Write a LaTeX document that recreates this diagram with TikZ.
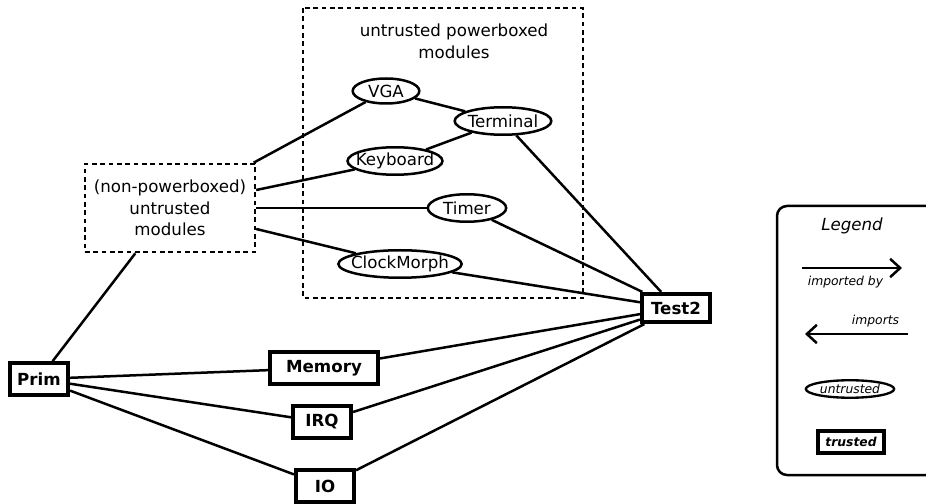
\documentclass[tikz,border=0pt]{standalone}
\usepackage{fontspec}
\setmainfont{DejaVu Sans}
\usetikzlibrary{shapes.geometric, arrows.meta}

\begin{document}
\begin{tikzpicture}[x=0.6pt, y=-0.6pt,
    every node/.style={font=\fontsize{10}{13}\selectfont},
    trustbox/.style={draw, rectangle, line width=2.3pt, minimum width=35pt, minimum height=19pt, inner sep=3pt, font=\fontsize{10}{13}\selectfont\bfseries},
    untrustell/.style={draw, ellipse, line width=1.5pt, minimum width=40pt, minimum height=16.5pt, inner xsep=-12pt, inner ysep=0pt},
    groupbox/.style={draw, line width=1.4pt, dash pattern=on 2.8pt off 2.2pt},
    link/.style={line width=1.5pt},
    legarrow/.style={line width=1.5pt, -{Straight Barb[length=6pt, width=11pt, line width=1.5pt]}},
    legtext/.style={font=\fontsize{7.4}{9}\selectfont\itshape}
]
    \useasboundingbox (0,0) rectangle (926,504);

    % Powerboxed modules
    \draw [groupbox] (303,8) rectangle (583,298);
    \node (pbtitle) at (454,41) [align=center] {untrusted powerboxed\\modules};
    \node (vga) [untrustell, minimum height=15pt] at (386,91) {VGA};
    \node (terminal) [untrustell, minimum width=58pt] at (503,121) {Terminal};
    \node (keyboard) [untrustell, minimum width=57pt] at (395,161) {Keyboard};
    \node (timer) [untrustell, minimum width=47pt] at (467,208) {Timer};
    \node (clock) [untrustell, minimum width=74pt] at (400,264) {ClockMorph};

    % Other untrusted modules
    \node (np) [groupbox, minimum width=102pt, minimum height=53pt, align=center] at (170,208)
        {(non-powerboxed)\\untrusted\\modules};

    % Trusted modules
    \node (prim) [trustbox] at (39,379) {Prim};
    \node (memory) [trustbox, minimum width=65pt] at (324,368) {Memory};
    \node (irq) [trustbox] at (322,422) {IRQ};
    \node (io) [trustbox] at (325,486) {IO};
    \node (test) [trustbox, minimum width=41pt, minimum height=17pt] at (676,308) {Test2};

    % Dependencies
    \draw [link] (vga) -- (terminal);
    \draw [link] (keyboard) -- (terminal);
    \draw [link] (np) -- (vga);
    \draw [link] (np) -- (keyboard);
    \draw [link] (np) -- (timer);
    \draw [link] (np) -- (clock);
    \draw [link] (np) -- (prim);
    \draw [link] (prim) -- (memory);
    \draw [link] (prim) -- (irq);
    \draw [link] (prim) -- (io);
    \draw [link] (terminal) -- (test);
    \draw [link] (timer) -- (test);
    \draw [link] (clock) -- (test);
    \draw [link] (memory) -- (test);
    \draw [link] (irq) -- (test);
    \draw [link] (io) -- (test);

    % Legend
    \draw [line width=1.5pt, rounded corners=6pt] (777,206) rectangle (960,475);
    \node (legtitle) [font=\fontsize{10}{13}\selectfont\itshape] at (852,226) {Legend};
    \coordinate (ibfrom) at (802,268);
    \coordinate (ibto) at (902,268);
    \draw [legarrow] (ibfrom) -- (ibto);
    \node (iblabel) [legtext, anchor=west] at (802,282) {imported by};
    \coordinate (imfrom) at (908,334);
    \coordinate (imto) at (805,334);
    \draw [legarrow] (imfrom) -- (imto);
    \node (imlabel) [legtext, anchor=east] at (905,321) {imports};
    \node (legell) [untrustell, minimum width=53pt, minimum height=10.5pt, line width=1.4pt, legtext] at (850,389) {untrusted};
    \node (legbox) [trustbox, legtext, font=\fontsize{7.4}{9}\selectfont\bfseries\itshape, minimum width=40pt, minimum height=13pt, inner sep=2pt] at (851,442) {trusted};
\end{tikzpicture}
\end{document}
